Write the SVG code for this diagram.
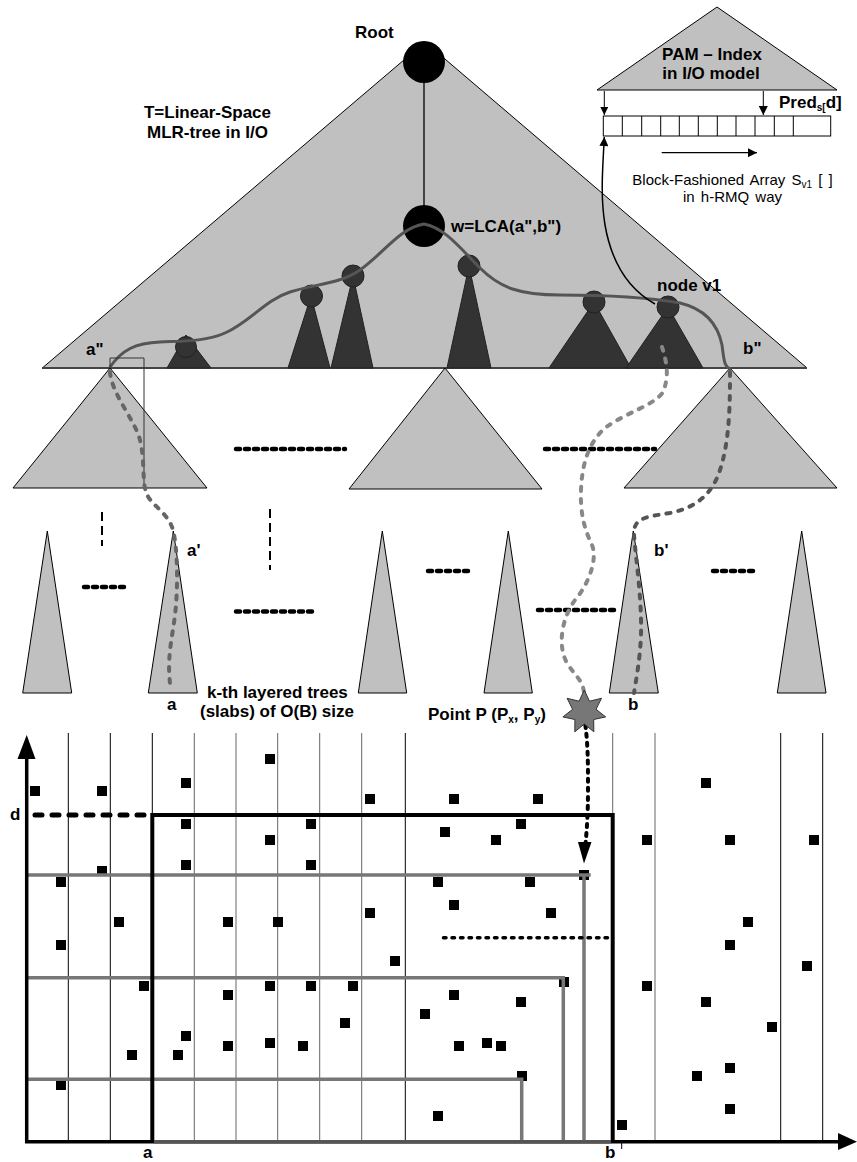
<svg xmlns="http://www.w3.org/2000/svg" width="857" height="1162" viewBox="0 0 857 1162">
<style>
text{font-family:"Liberation Sans",Arial,sans-serif;fill:#000}
.b{font-weight:bold;font-size:17px}
.r{font-size:15px;word-spacing:2px}
.tri{fill:#c0c0c0;stroke:#000;stroke-width:1}
.dk{fill:#333;stroke:#222;stroke-width:1}
.dot{stroke:#000;stroke-width:4.5;stroke-linecap:round;stroke-dasharray:4 5;fill:none}
.vd{stroke:#000;stroke-width:2;stroke-dasharray:9 5;fill:none}
.gp{fill:none;stroke-width:4;stroke-linecap:round;stroke-dasharray:4 8}
.grid{stroke-width:1;fill:none}
.gr{stroke:#777;stroke-width:3.5;fill:none}
.sq{fill:#000}
</style>
<defs>
<marker id="ah" viewBox="0 0 10 10" refX="10" refY="5" markerWidth="12" markerHeight="9" markerUnits="userSpaceOnUse" orient="auto">
<path d="M0,0 L10,5 L0,10 Z" fill="#000"/>
</marker>
<marker id="ahs" viewBox="0 0 10 10" refX="10" refY="5" markerWidth="10" markerHeight="8" markerUnits="userSpaceOnUse" orient="auto">
<path d="M0,0 L10,5 L0,10 Z" fill="#000"/>
</marker>
</defs>

<g id="main-tree">
<polygon class="tri" points="42.7,367.7 425,42 806.7,367.7"/>
<line x1="42" y1="368" x2="807" y2="368" stroke="#444" stroke-width="2"/>
<line x1="424" y1="62" x2="424" y2="225" stroke="#000" stroke-width="1.3"/>
<circle cx="424" cy="62" r="21" fill="#000"/>
<text class="b" x="355" y="38">Root</text>
<text class="b" x="207.5" y="118" text-anchor="middle">T=Linear-Space</text>
<text class="b" x="207.5" y="138" text-anchor="middle">MLR-tree in I/O</text>
</g>

<g id="subtrees">
<polygon class="dk" points="167,368 186,335 211,368"/><circle class="dk" cx="186" cy="347" r="10.5"/>
<polygon class="dk" points="288,368 311,296 330,368"/><circle class="dk" cx="311.5" cy="296" r="11"/>
<polygon class="dk" points="331,368 353,276 373,368"/><circle class="dk" cx="353" cy="276" r="11"/>
<polygon class="dk" points="447,368 469,266 491,368"/><circle class="dk" cx="469" cy="266" r="11"/>
<polygon class="dk" points="549,368 594,302 631,368"/><circle class="dk" cx="594" cy="302" r="11"/>
<polygon class="dk" points="626,368 668,307 703,368"/><circle class="dk" cx="668" cy="307" r="11"/>
</g>

<g id="w-node">
<circle cx="424" cy="226" r="21" fill="#000"/>
<text class="b" x="451" y="232">w=LCA(a",b")</text>
</g>

<g id="level2">
<polygon class="tri" points="13,488 110,368 207,488"/>
<polygon class="tri" points="349,489 445,368 542,489"/>
<polygon class="tri" points="624,488 730,368 837,488"/>
</g>

<g id="level3">
<polygon class="tri" points="22.7,693 47.3,531 71.7,693"/>
<polygon class="tri" points="148.3,693 173.3,531 197.3,693"/>
<polygon class="tri" points="358.3,693 382.3,531 406.7,693"/>
<polygon class="tri" points="484,693 508.3,531 532.3,693"/>
<polygon class="tri" points="609.3,693 633.3,531 658.3,693"/>
<polygon class="tri" points="777.3,693 801.7,531 826,693"/>
</g>

<g id="ellipses">
<line class="dot" x1="236" y1="449" x2="345" y2="449"/>
<line class="dot" x1="545" y1="449" x2="655" y2="449"/>
<line class="dot" x1="84" y1="587" x2="128" y2="587"/>
<line class="dot" x1="236" y1="611.5" x2="317" y2="611.5"/>
<line class="dot" x1="428" y1="571" x2="471" y2="571"/>
<line class="dot" x1="538" y1="610" x2="619" y2="610"/>
<line class="dot" x1="713" y1="571" x2="756" y2="571"/>
<line class="vd" x1="102" y1="512" x2="102" y2="546"/>
<line class="vd" x1="270" y1="509" x2="270" y2="570"/>
</g>

<g id="connectors">
<path d="M110,367 C122,350 135,343 160,342 C180,341 205,342 225,333 C250,322 265,300 290,292 C315,284 340,284 360,270 C385,252 400,228 424,224 C445,228 460,248 480,268 C500,288 520,295 560,295 C600,295 640,296 680,303 C705,309 718,325 722,345 C724,360 724,367 731,369" fill="none" stroke="#555" stroke-width="3"/>
<path d="M110,368 V358 H144 V488" fill="none" stroke="#333" stroke-width="1"/>
<path class="gp" stroke="#666" d="M110,372 C112,395 135,420 140,440 C145,460 142,480 146,492 C150,505 168,512 173,530 C178,550 178,590 175,615 C172,640 166,660 171,690"/>
<path class="gp" stroke="#555" d="M730,372 C730,400 730,440 720,470 C712,495 695,508 670,513 C645,517 633,518 634,535 C636,560 642,600 641,635 C640,660 636,680 634,693"/>
<path class="gp" stroke="#888" d="M662,347 C666,360 670,375 663,392 C655,405 625,413 605,428 C588,443 582,465 581,490 C580,515 585,530 592,545 C598,560 588,585 575,600 C562,618 557,645 567,663 C575,676 583,680 584,693"/>
<path d="M655,304 C630,290 612,265 605,225 C600,195 603,165 604.3,137" fill="none" stroke="#000" stroke-width="1.5" marker-end="url(#ah)"/>
<path d="M584,716 C588,740 588,760 588,790 C588,812 587,828 585.5,844" fill="none" stroke="#000" stroke-width="4" stroke-linecap="round" stroke-dasharray="3 6"/>
<polygon points="578,842 584,863.5 591.5,842" fill="#000"/>
</g>

<g id="labels">
<text class="b" x="86" y="355">a"</text>
<text class="b" x="743" y="354">b"</text>
<text class="b" x="657" y="291">node v1</text>
<text class="b" x="187" y="556">a'</text>
<text class="b" x="654" y="556">b'</text>
<text class="b" x="167" y="710">a</text>
<text class="b" x="628" y="710">b</text>
<text class="b" x="207" y="698">k-th layered trees</text>
<text class="b" x="200" y="717">(slabs) of O(B) size</text>
<text class="b" x="428" y="720">Point<tspan dx="5">P (P</tspan><tspan font-size="10" dy="3">x</tspan><tspan dy="-3">, P</tspan><tspan font-size="10" dy="3">y</tspan><tspan dy="-3">)</tspan></text>
</g>

<g id="point-p">
<polygon points="584.3,690 589.5,701.2 601.5,698.3 596,709.3 605.7,716.9 593.7,719.5 593.8,731.8 584.3,724 574.8,731.8 574.9,719.5 562.9,716.9 572.6,709.3 567.1,698.3 579.1,701.2" fill="#777" stroke="#333" stroke-width="1"/>
</g>

<g id="pam-index">
<polygon class="tri" points="597,90 717,7 837,90"/>
<text class="b" x="712" y="60" text-anchor="middle">PAM – Index</text>
<text class="b" x="711" y="79" text-anchor="middle">in I/O model</text>
<rect x="603.3" y="116" width="227.4" height="20" fill="#fff" stroke="#000" stroke-width="1"/>
<path d="M622.3,116V136M641.7,116V136M660.7,116V136M679.3,116V136M698.3,116V136M717.3,116V136M736,116V136M755,116V136M774.3,116V136M793.3,116V136" stroke="#000" stroke-width="1"/>
<line x1="604.3" y1="91" x2="604.3" y2="115" stroke="#000" stroke-width="1" marker-end="url(#ahs)"/>
<line x1="763.3" y1="91" x2="763.3" y2="115" stroke="#000" stroke-width="1" marker-end="url(#ah)"/>
<line x1="661.7" y1="152.7" x2="757" y2="152.7" stroke="#000" stroke-width="1.3" marker-end="url(#ah)"/>
<text class="b" x="779" y="108">Pred<tspan font-size="10" dy="3">s[</tspan><tspan dy="-3">d]</tspan></text>
<text class="r" x="732.5" y="185" text-anchor="middle">Block-Fashioned Array S<tspan font-size="10" dy="3">v1</tspan><tspan dy="-3"> [ ]</tspan></text>
<text class="r" x="732.5" y="201.7" text-anchor="middle">in h-RMQ way</text>
</g>

<g id="grid">
<g class="grid" stroke="#000">
<line x1="68.3" y1="733" x2="68.3" y2="1141"/>
<line x1="110.3" y1="733" x2="110.3" y2="1141"/>
<line x1="152.3" y1="733" x2="152.3" y2="815"/>
<line x1="405.3" y1="733" x2="405.3" y2="1141"/>
<line x1="780.7" y1="733" x2="780.7" y2="1141"/>
<line x1="822.7" y1="733" x2="822.7" y2="1141"/>
</g>
<g class="grid" stroke="#666">
<line x1="194.3" y1="733" x2="194.3" y2="1141"/>
<line x1="236" y1="733" x2="236" y2="1141"/>
<line x1="277.7" y1="733" x2="277.7" y2="1141"/>
<line x1="319.7" y1="733" x2="319.7" y2="1141"/>
<line x1="361.7" y1="733" x2="361.7" y2="1141"/>
<line x1="612.7" y1="733" x2="612.7" y2="815"/>
<line x1="655" y1="733" x2="655" y2="1141"/>
</g>
</g>

<g id="points">
<rect class="sq" x="30" y="786" width="10" height="10"/>
<rect class="sq" x="97" y="786" width="10" height="10"/>
<rect class="sq" x="181" y="778" width="10" height="10"/>
<rect class="sq" x="265" y="754" width="10" height="10"/>
<rect class="sq" x="365" y="794" width="10" height="10"/>
<rect class="sq" x="181" y="819" width="10" height="10"/>
<rect class="sq" x="306" y="819" width="10" height="10"/>
<rect class="sq" x="265" y="835" width="10" height="10"/>
<rect class="sq" x="181" y="860" width="10" height="10"/>
<rect class="sq" x="306" y="860" width="10" height="10"/>
<rect class="sq" x="97" y="866" width="10" height="10"/>
<rect class="sq" x="56" y="877" width="10" height="10"/>
<rect class="sq" x="114" y="917" width="10" height="10"/>
<rect class="sq" x="223" y="917" width="10" height="10"/>
<rect class="sq" x="273" y="917" width="10" height="10"/>
<rect class="sq" x="365" y="908" width="10" height="10"/>
<rect class="sq" x="56" y="940" width="10" height="10"/>
<rect class="sq" x="390" y="956" width="10" height="10"/>
<rect class="sq" x="139" y="981" width="10" height="10"/>
<rect class="sq" x="223" y="990" width="10" height="10"/>
<rect class="sq" x="265" y="981" width="10" height="10"/>
<rect class="sq" x="306" y="981" width="10" height="10"/>
<rect class="sq" x="348" y="981" width="10" height="10"/>
<rect class="sq" x="420" y="1009" width="10" height="10"/>
<rect class="sq" x="340" y="1018" width="10" height="10"/>
<rect class="sq" x="181" y="1031" width="10" height="10"/>
<rect class="sq" x="223" y="1041" width="10" height="10"/>
<rect class="sq" x="265" y="1038" width="10" height="10"/>
<rect class="sq" x="298" y="1041" width="10" height="10"/>
<rect class="sq" x="127" y="1050" width="10" height="10"/>
<rect class="sq" x="173" y="1050" width="10" height="10"/>
<rect class="sq" x="56" y="1080" width="10" height="10"/>
<rect class="sq" x="449" y="794" width="10" height="10"/>
<rect class="sq" x="533" y="794" width="10" height="10"/>
<rect class="sq" x="701" y="778" width="10" height="10"/>
<rect class="sq" x="516" y="819" width="10" height="10"/>
<rect class="sq" x="440" y="827" width="10" height="10"/>
<rect class="sq" x="491" y="835" width="10" height="10"/>
<rect class="sq" x="642" y="835" width="10" height="10"/>
<rect class="sq" x="725" y="835" width="10" height="10"/>
<rect class="sq" x="809" y="835" width="10" height="10"/>
<rect class="sq" x="579" y="870" width="10" height="10"/>
<rect class="sq" x="433" y="877" width="10" height="10"/>
<rect class="sq" x="525" y="877" width="10" height="10"/>
<rect class="sq" x="449" y="900" width="10" height="10"/>
<rect class="sq" x="546" y="908" width="10" height="10"/>
<rect class="sq" x="743" y="917" width="10" height="10"/>
<rect class="sq" x="725" y="940" width="10" height="10"/>
<rect class="sq" x="802" y="961" width="10" height="10"/>
<rect class="sq" x="559" y="977" width="10" height="10"/>
<rect class="sq" x="642" y="981" width="10" height="10"/>
<rect class="sq" x="449" y="990" width="10" height="10"/>
<rect class="sq" x="516" y="997" width="10" height="10"/>
<rect class="sq" x="701" y="997" width="10" height="10"/>
<rect class="sq" x="767" y="1022" width="10" height="10"/>
<rect class="sq" x="454" y="1041" width="10" height="10"/>
<rect class="sq" x="482" y="1038" width="10" height="10"/>
<rect class="sq" x="496" y="1041" width="10" height="10"/>
<rect class="sq" x="725" y="1063" width="10" height="10"/>
<rect class="sq" x="692" y="1071" width="10" height="10"/>
<rect class="sq" x="517" y="1071" width="10" height="10"/>
<rect class="sq" x="725" y="1104" width="10" height="10"/>
<rect class="sq" x="433" y="1111" width="10" height="10"/>
<rect class="sq" x="617" y="1120" width="10" height="10"/>
</g>

<g id="query-ranges">
<path class="gr" d="M26.7,875 H590.7 M584,875 V1141.7"/>
<path class="gr" d="M26.7,977.7 H563.3 V1141.7"/>
<path class="gr" d="M26.7,1079.3 H521.7 V1141.7"/>
<line x1="443.5" y1="937.7" x2="611" y2="937.7" stroke="#000" stroke-width="3.5" stroke-linecap="round" stroke-dasharray="2.5 6"/>
<line x1="35" y1="815" x2="150" y2="815" stroke="#000" stroke-width="5" stroke-linecap="round" stroke-dasharray="7 10"/>
<path d="M152.3,1141.7 V815 H612.7 V1141.7" fill="none" stroke="#000" stroke-width="4"/>
</g>

<g id="axes">
<line x1="26.7" y1="1143" x2="26.7" y2="755" stroke="#000" stroke-width="3.5"/>
<polygon points="17.5,759 26.7,735 35.5,759" fill="#000"/>
<line x1="25" y1="1141.7" x2="840" y2="1141.7" stroke="#000" stroke-width="3.5"/>
<line x1="154" y1="1141.7" x2="611" y2="1141.7" stroke="#555" stroke-width="3.5"/>
<polygon points="838,1133 857,1141.7 838,1150" fill="#000"/>
<line x1="621.7" y1="1143" x2="621.7" y2="1149" stroke="#000" stroke-width="1"/>
<text class="b" x="10" y="820">d</text>
<text class="b" x="143" y="1158">a</text>
<text class="b" x="605" y="1158">b</text>
</g>
</svg>
